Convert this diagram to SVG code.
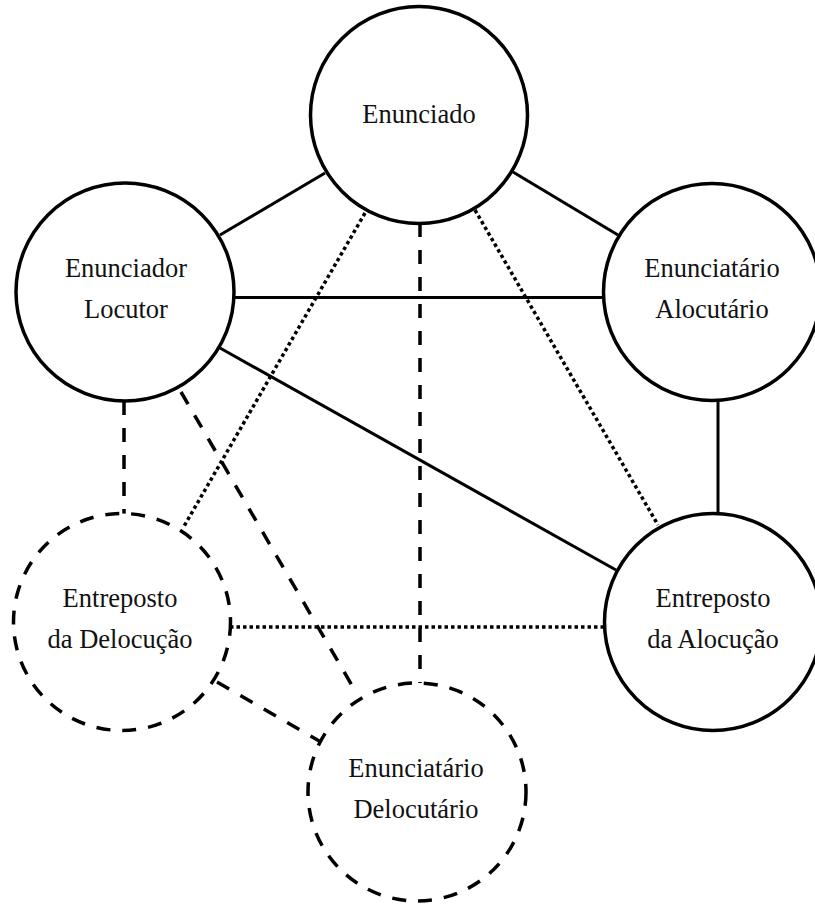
<svg xmlns="http://www.w3.org/2000/svg" width="815" height="904" viewBox="0 0 815 904">
<style>
.node{fill:#fff;stroke:#000;stroke-width:3.5}
.dnode{fill:#fff;stroke:#000;stroke-width:3.5;stroke-dasharray:14 12}
.lbl{font-family:"Liberation Serif","Times New Roman",serif;font-size:26.5px;fill:#111;text-anchor:middle}
.solid{stroke:#000;stroke-width:3;fill:none}
.dash{stroke:#000;stroke-width:3.5;stroke-dasharray:14 13;fill:none}
.dot{stroke:#000;stroke-width:3.5;stroke-dasharray:3.5 3;fill:none}
</style>
<rect width="815" height="904" fill="#fff"/>
<g id="connectors">
<line class="solid" x1="220" y1="235" x2="325" y2="173"/>
<line class="solid" x1="513" y1="172" x2="618" y2="235"/>
<line class="solid" x1="234" y1="297.5" x2="604" y2="297.5"/>
<line class="solid" x1="220" y1="348" x2="616" y2="570"/>
<line class="solid" x1="718" y1="400" x2="718" y2="514"/>
<line class="dot" x1="365" y1="213" x2="183" y2="528"/>
<line class="dot" x1="475" y1="210" x2="658" y2="525"/>
<line class="dash" x1="420" y1="223" x2="420" y2="683"/>
<line class="dash" x1="124" y1="401" x2="124" y2="514"/>
<line class="dash" x1="181" y1="392" x2="357" y2="694"/>
<line class="dot" x1="230" y1="627" x2="605" y2="627"/>
<line class="dash" x1="217" y1="682" x2="321" y2="742"/>
</g>
<g id="enunciado">
<circle class="node" cx="419" cy="115" r="108.5"/>
<text class="lbl" x="419" y="123">Enunciado</text>
</g>
<g id="enunciador">
<circle class="node" cx="125" cy="292" r="109"/>
<text class="lbl" x="126" y="277">Enunciador</text>
<text class="lbl" x="126" y="318">Locutor</text>
</g>
<g id="enunciatario-alocutario">
<circle class="node" cx="712" cy="292" r="108.5"/>
<text class="lbl" x="712" y="277">Enunciatário</text>
<text class="lbl" x="712" y="318">Alocutário</text>
</g>
<g id="entreposto-delocucao">
<circle class="dnode" cx="122" cy="622" r="108.5"/>
<text class="lbl" x="120" y="607">Entreposto</text>
<text class="lbl" x="120" y="648">da Delocução</text>
</g>
<g id="entreposto-alocucao">
<circle class="node" cx="713" cy="622" r="108.5"/>
<text class="lbl" x="713" y="607">Entreposto</text>
<text class="lbl" x="713" y="648">da Alocução</text>
</g>
<g id="enunciatario-delocutario">
<circle class="dnode" cx="417" cy="792" r="109"/>
<text class="lbl" x="416" y="777">Enunciatário</text>
<text class="lbl" x="416" y="818">Delocutário</text>
</g>
</svg>
